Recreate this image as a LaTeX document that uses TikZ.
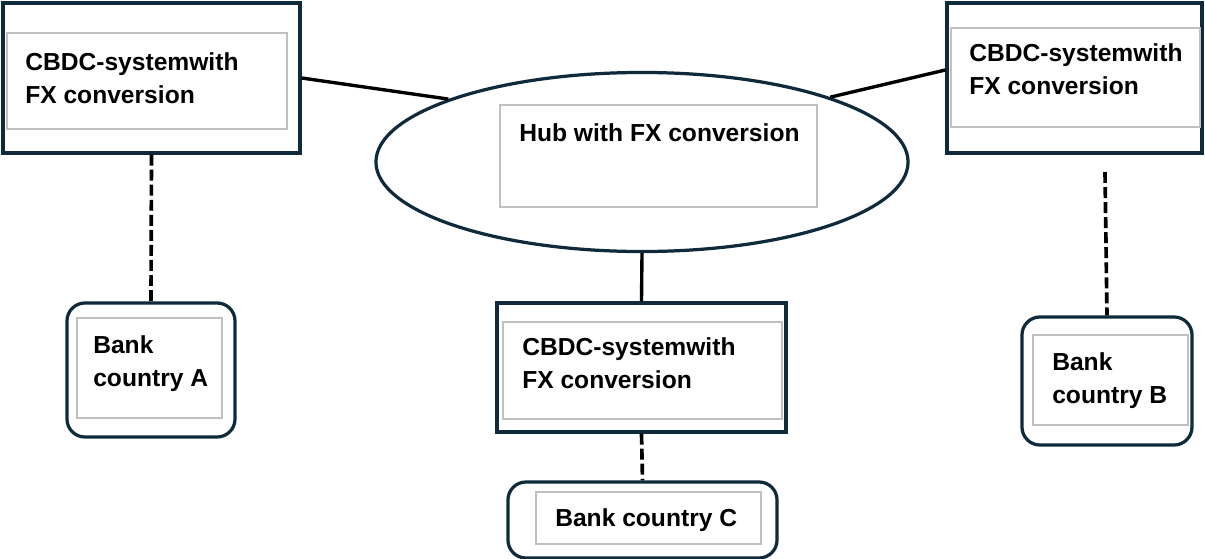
\documentclass[tikz,border=0pt]{standalone}
\usepackage{fontspec}
\setmainfont{Liberation Sans}
\usepackage{xcolor}
\usepackage{tikz}
\usetikzlibrary{positioning,shapes.geometric}

\definecolor{navy}{HTML}{0E2A3B}
\definecolor{frame}{HTML}{C0C0C0}

\tikzset{
  outerbox/.style={draw=navy, line width=2.3pt, fill=white, inner sep=0pt},
  bankbox/.style={outerbox, rounded corners=0.45cm},
  hubshape/.style={ellipse, draw=navy, line width=2.3pt, fill=white, inner sep=0pt},
  innerbox/.style={draw=frame, line width=1pt, inner sep=0pt},
  label/.style={anchor=north west, inner sep=0pt, align=left,
    font=\fontsize{17.5}{23.5}\selectfont\bfseries},
  link/.style={black, line width=2.4pt},
  dashlink/.style={black, line width=2.6pt, dash pattern=on 7.8pt off 2.9pt}
}

\begin{document}
\begin{tikzpicture}[x=0.025cm, y=-0.025cm]
% canvas in pixel units, y pointing down
\useasboundingbox (0,0) rectangle (1205,559);

% 1. Outer shapes
\node[outerbox, minimum width=7.425cm, minimum height=3.75cm] (sysA) at (151.5,78) {};
\node[outerbox, minimum width=6.375cm, minimum height=3.75cm] (sysB) at (1074.5,78) {};
\node[outerbox, minimum width=7.225cm, minimum height=3.225cm] (sysC) at (641.5,367.5) {};
\node[hubshape, minimum width=13.3cm, minimum height=4.475cm] (hub) at (642,162) {};
\node[bankbox, minimum width=4.2cm, minimum height=3.35cm] (bankA) at (151,370) {};
\node[bankbox, minimum width=4.25cm, minimum height=3.2cm] (bankB) at (1107,381) {};
\node[bankbox, minimum width=6.725cm, minimum height=1.9cm] (bankC) at (642.5,520) {};

% 2. Inner frames
\node[innerbox, minimum width=7.0cm, minimum height=2.4cm] (frameA) at (147,81) {};
\node[innerbox, minimum width=6.225cm, minimum height=2.475cm] (frameB) at (1075.5,77.5) {};
\node[innerbox, minimum width=6.975cm, minimum height=2.425cm] (frameC) at (642.5,370.5) {};
\node[innerbox, minimum width=7.925cm, minimum height=2.55cm] (frameHub) at (658.5,156) {};
\node[innerbox, minimum width=3.625cm, minimum height=2.5cm] (frameBankA) at (149.5,368) {};
\node[innerbox, minimum width=3.875cm, minimum height=2.25cm] (frameBankB) at (1110.5,380) {};
\node[innerbox, minimum width=5.625cm, minimum height=1.3cm] (frameBankC) at (648.5,518) {};

% 3. Texts
\node[label] (txtA) at (25,52) {CBDC-systemwith\\FX conversion};
\node[label] (txtB) at (969,43) {CBDC-systemwith\\FX conversion};
\node[label] (txtC) at (522,337) {CBDC-systemwith\\FX conversion};
\node[label] (txtHub) at (519,123) {Hub with FX conversion};
\node[label] (txtBankA) at (93,335) {Bank\\country A};
\node[label] (txtBankB) at (1052,352) {Bank\\country B};
\node[label] (txtBankC) at (555,508) {Bank country C};

% 4. Connectors
\coordinate (gapB) at (1105,172);
\draw[link] (sysA.east) -- (hub.162);
\draw[link] ([yshift=0.2cm]sysB.west) -- (hub.19);
\draw[link] (hub.south) -- (sysC.north);
\draw[dashlink] (sysA.south) -- (bankA.north);
\draw[dashlink] (gapB) -- (bankB.north);
\draw[dashlink] (sysC.south) -- (bankC.north);

\end{tikzpicture}
\end{document}
